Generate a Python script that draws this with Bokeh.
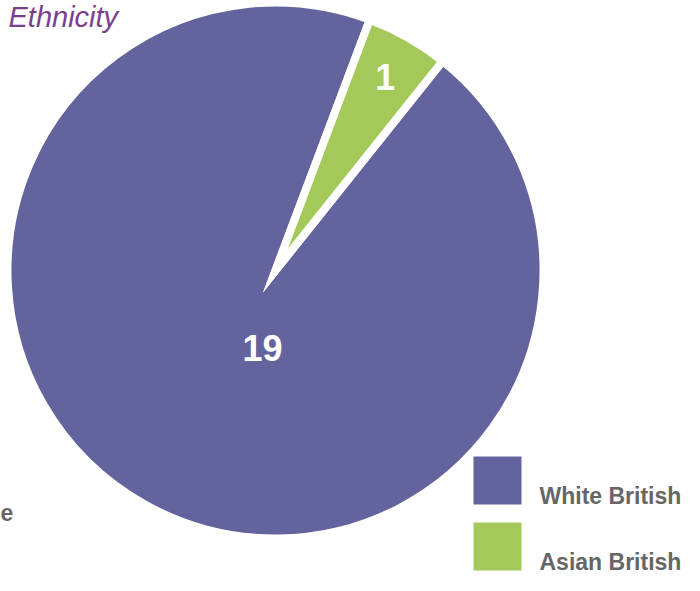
import numpy as np
import pandas as pd
from bokeh.plotting import figure
from bokeh.models import Range1d, ColumnDataSource
from bokeh.core.properties import value
from bokeh.embed import file_html
from bokeh.resources import INLINE

# ---- data ----
categories = ["White British", "Asian British"]
counts = [19, 1]
colors = ["#63649D", "#A4C95A"]
title_text = "Ethnicity"
cut_label = "e"

# ---- layout constants (pixels; 1 data unit = 1 px, y measured upward) ----
W, H = 684, 575
cx, cy = 275, H - 270      # pie centre
R = 268                    # wedge radius
gap = 8                    # white separator width
start_deg = 69.4           # start angle of first slice (anticlockwise from +x)

total = sum(counts)
fr = np.array(counts) / total
spans = fr * 2 * np.pi
starts = np.deg2rad(start_deg) + np.concatenate([[0], np.cumsum(spans)[:-1]])
ends = starts + spans
mids = (starts + ends) / 2

df = pd.DataFrame(dict(cat=categories, val=counts, color=colors,
                       start=starts, end=ends))
src = ColumnDataSource(df)

p = figure(width=W, height=H, output_backend="svg", toolbar_location=None,
           x_range=Range1d(0, W), y_range=Range1d(0, H),
           min_border=0, outline_line_color=None)
p.axis.visible = False
p.grid.visible = False
p.background_fill_color = "white"
p.border_fill_color = "white"

p.wedge(x=cx, y=cy, radius=R, start_angle="start", end_angle="end",
        fill_color="color", line_color="white", line_width=gap,
        line_join="miter", source=src)

# value labels
label_r = [79, 222]
label_shift = [np.deg2rad(20.1), 0.0]
lx = [cx + r * np.cos(m + s) for r, m, s in zip(label_r, mids, label_shift)]
ly = [cy + r * np.sin(m + s) for r, m, s in zip(label_r, mids, label_shift)]
p.text(x=lx, y=ly, text=[str(v) for v in counts], text_color="white",
       text_font=value("Liberation Sans"), text_font_style="bold",
       text_font_size="36px", text_align="center", text_baseline="middle")

# title
p.text(x=[8], y=[H - 16], text=[title_text], text_color="#7B3F8E",
       text_font=value("Liberation Sans"), text_font_style="italic",
       text_font_size="29px", text_align="left", text_baseline="middle")

# fragment of a neighbouring label at the left edge
p.text(x=[0], y=[H - 512], text=[cut_label], text_color="#666666",
       text_font=value("Liberation Sans"), text_font_style="bold",
       text_font_size="23px", text_align="left", text_baseline="middle")

# legend
leg_x = 497
leg_y0 = H - 480
leg_step = 66
leg_ys = [leg_y0 - i * leg_step for i in range(len(categories))]
p.rect(x=[leg_x] * len(categories), y=leg_ys, width=48, height=48,
       fill_color=colors, line_color=None)
p.text(x=[539] * len(categories), y=[y - 15 for y in leg_ys], text=categories,
       text_color="#666666", text_font=value("Liberation Sans"),
       text_font_style="bold", text_font_size="23px",
       text_align="left", text_baseline="middle")

open("out.html", "w").write(file_html(p, INLINE))
